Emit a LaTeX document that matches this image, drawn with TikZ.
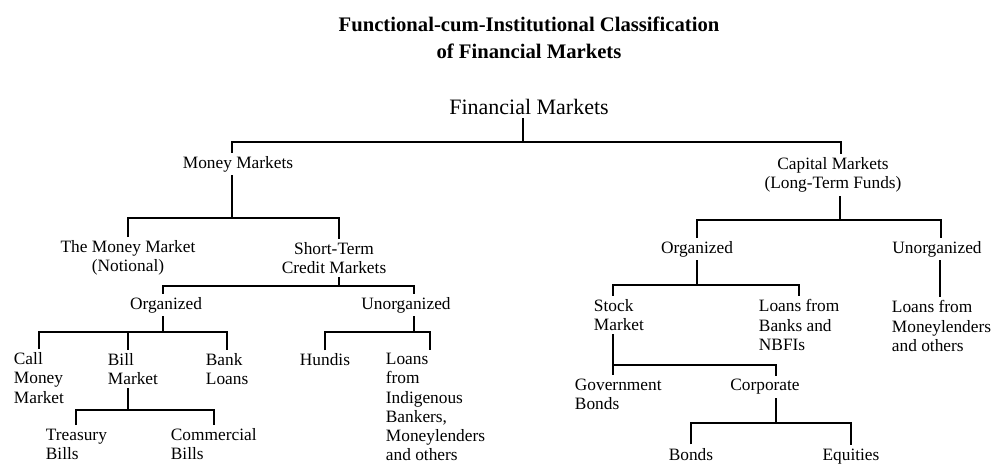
\documentclass[tikz,border=0pt]{standalone}
\usepackage{fontspec}
\setmainfont{Liberation Serif}
\usetikzlibrary{positioning, calc}
\tikzset{
  every picture/.style={line width=1.4pt},
  lbl/.style={font=\fontsize{13}{14.3}\selectfont, inner xsep=0pt, inner ysep=2pt, align=center},
  leaf/.style={lbl, align=left, anchor=west},
  title/.style={font=\bfseries\fontsize{15.5}{20.3}\selectfont, align=center},
  rootlbl/.style={font=\fontsize{16.5}{20}\selectfont, inner sep=2pt},
}
\begin{document}
\begin{tikzpicture}[x=0.75pt, y=-0.75pt]
  \fill[white] (0,0) rectangle (992,464);
  \useasboundingbox (0,0) rectangle (992,464);
  % heading and root
  \node[title] (ttl) at (529,38) {Functional-cum-Institutional Classification\\of Financial Markets};
  \node[rootlbl] (fm) at (529,107) {Financial Markets};
  % money side
  \node[lbl] (mm) at (238,164) {Money Markets};
  \node[lbl] (tmm) at (128,258) {The Money Market\\(Notional)};
  \node[lbl] (stc) at (334,258) {Short-Term\\Credit Markets};
  \node[lbl] (org1) at (166,305) {Organized};
  \node[lbl] (unorg1) at (406,305) {Unorganized};
  \node[leaf] (call) at (13,378) {Call\\Money\\Market};
  \node[leaf] (bill) at (107,369) {Bill\\Market};
  \node[leaf] (bank) at (205,369) {Bank\\Loans};
  \node[leaf] (hundi) at (299,360) {Hundis};
  \node[leaf] (lind) at (385,407) {Loans\\from\\Indigenous\\Bankers,\\Moneylenders\\and others};
  \node[leaf] (tb) at (45,444) {Treasury\\Bills};
  \node[leaf] (cb) at (170,444) {Commercial\\Bills};
  % capital side
  \node[lbl] (cap) at (833,175) {Capital Markets\\(Long-Term Funds)};
  \node[lbl] (org2) at (697,249) {Organized};
  \node[lbl] (unorg2) at (937,249) {Unorganized};
  \node[leaf] (stock) at (593,315) {Stock\\Market};
  \node[leaf] (lbank) at (758,325) {Loans from\\Banks and\\NBFIs};
  \node[leaf] (lmoney) at (891,326) {Loans from\\Moneylenders\\and others};
  \node[leaf] (gov) at (574,394) {Government\\Bonds};
  \node[lbl] (corp) at (765,387) {Corporate};
  \node[lbl, anchor=base] (bonds) at (691,460) {Bonds};
  \node[lbl, anchor=base] (eq) at (851,460) {Equities};
  % bar levels
  \coordinate (b0) at (0,142);
  \coordinate (b1) at (0,218);
  \coordinate (b2) at (0,286);
  \coordinate (b3) at (0,332);
  \coordinate (b4) at (0,410);
  \coordinate (b5) at (0,220);
  \coordinate (b6) at (0,285);
  \coordinate (b7) at (0,365);
  \coordinate (b8) at (0,423);
  % root split
  \draw ([xshift=-4.5pt]fm.south) -- ([xshift=-4.5pt]fm.south |- b0);
  \draw ([xshift=-4.5pt]mm.north) |- ([xshift=6pt]cap.north |- b0) -- ([xshift=6pt]cap.north);
  % money markets
  \draw ([xshift=-4.5pt]mm.south) -- ([xshift=-4.5pt]mm.south |- b1);
  \draw (tmm.north) |- ([xshift=4pt]stc.north |- b1) -- ([xshift=4pt]stc.north);
  \draw ([xshift=4pt]stc.south) -- ([xshift=4pt]stc.south |- b2);
  \draw ([xshift=-2pt]org1.north) |- ([xshift=6pt]unorg1.north |- b2) -- ([xshift=6pt]unorg1.north);
  \draw ([xshift=-2pt]org1.south) -- ([xshift=-2pt]org1.south |- b3);
  \draw (call.north) |- (bank.north |- b3) -- (bank.north);
  \draw ([xshift=-4pt]bill.north) -- ([xshift=-4pt]bill.north |- b3);
  \draw ([xshift=6pt]unorg1.south) -- ([xshift=6pt]unorg1.south |- b3);
  \draw (hundi.north) |- ([xshift=-4pt]lind.north |- b3) -- ([xshift=-4pt]lind.north);
  \draw ([xshift=-4pt]bill.south) -- ([xshift=-4pt]bill.south |- b4);
  \draw (tb.north) |- (cb.north |- b4) -- (cb.north);
  % capital markets
  \draw ([xshift=5pt]cap.south) -- ([xshift=5pt]cap.south |- b5);
  \draw (org2.north) |- ([xshift=3pt]unorg2.north |- b5) -- ([xshift=3pt]unorg2.north);
  \draw (org2.south) -- (org2.south |- b6);
  \draw ([xshift=-4.5pt]stock.north) |- (lbank.north |- b6) -- (lbank.north);
  \draw ([xshift=2pt]unorg2.south) -- ([xshift=2pt]unorg2.south |- lmoney.north);
  \draw ([xshift=-4.5pt]stock.south) -- ([xshift=-4.5pt]stock.south |- gov.north);
  \draw ([xshift=-4.5pt]stock.south |- b7) -| ([xshift=8pt]corp.north);
  \draw ([xshift=8pt]corp.south) -- ([xshift=8pt]corp.south |- b8);
  \draw (bonds.north) |- (eq.north |- b8) -- (eq.north);
\end{tikzpicture}
\end{document}
